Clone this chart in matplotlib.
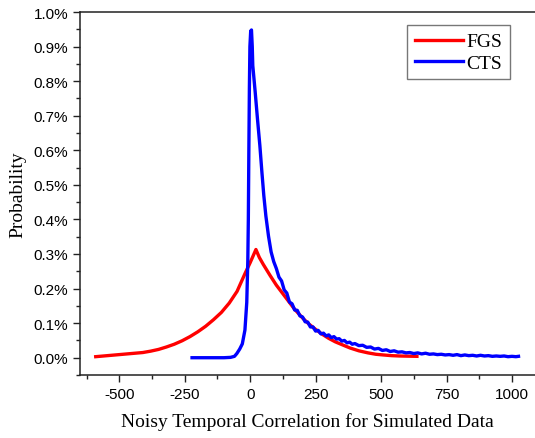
import matplotlib
matplotlib.use("Agg")
import matplotlib.pyplot as plt
from matplotlib.ticker import MultipleLocator, FuncFormatter

plt.rcParams["axes.unicode_minus"] = False

# FGS (red) curve, values in percent
fgs_x = [-590, -560, -530, -500, -470, -440, -410, -380, -350, -320, -290, -260, -230,
         -200, -170, -140, -110, -80, -50, -20, 0, 22, 35, 50, 76, 100, 120, 140, 170,
         200, 225, 250, 275, 300, 325, 350, 382, 415, 450, 480, 508, 540, 570, 600, 637]
fgs_y = [0.003, 0.005, 0.007, 0.009, 0.011, 0.013, 0.015, 0.019, 0.024, 0.031, 0.039,
         0.049, 0.061, 0.075, 0.091, 0.110, 0.131, 0.158, 0.192, 0.243, 0.275, 0.313,
         0.290, 0.270, 0.238, 0.210, 0.190, 0.170, 0.140, 0.115, 0.097, 0.082, 0.068,
         0.056, 0.046, 0.038, 0.028, 0.020, 0.014, 0.010, 0.008, 0.006, 0.005, 0.0045,
         0.004]

# CTS (blue) curve, values in percent
cts_x = [-222, -180, -140, -100, -75, -60, -51, -40, -30, -20, -13, -9, -7, -5, -3, -1,
         2, 5, 8, 10, 19, 28, 37, 45, 52,
         60, 70, 80, 90, 100, 110, 120, 130, 140, 150, 160, 170, 180, 190, 200,
         210, 220, 230, 240, 250, 260, 270, 280, 290, 300, 310, 320, 330, 340, 350, 360,
         370, 380, 390, 400, 415, 430, 445, 460, 475, 490, 505, 520, 535, 550, 565, 580,
         595, 610, 625, 640, 655, 670, 685, 700, 715, 730, 745, 760, 775, 790, 805, 820,
         835, 850, 865, 880, 895, 910, 925, 940, 955, 970, 985, 1000, 1015, 1025]
cts_y = [0.0, 0.0, 0.0, 0.0, 0.001, 0.004, 0.012, 0.025, 0.040, 0.080, 0.160, 0.280, 0.400,
         0.600, 0.780, 0.900, 0.945, 0.948, 0.900, 0.845, 0.770, 0.690, 0.614, 0.535, 0.470,
         0.410, 0.352, 0.306, 0.278, 0.258, 0.233, 0.222, 0.196, 0.187, 0.161,
         0.156, 0.138, 0.137, 0.121, 0.118, 0.104, 0.103, 0.089, 0.089, 0.077, 0.079, 0.069,
         0.071, 0.063, 0.066, 0.058, 0.061, 0.054, 0.055, 0.048, 0.050, 0.043, 0.045, 0.039,
         0.041, 0.035, 0.036, 0.030, 0.031, 0.025, 0.027, 0.021, 0.023, 0.018, 0.020, 0.016,
         0.017, 0.014, 0.015, 0.012, 0.014, 0.011, 0.013, 0.010, 0.011, 0.009, 0.010, 0.008,
         0.009, 0.007, 0.009, 0.006, 0.008, 0.006, 0.007, 0.005, 0.007, 0.005, 0.006, 0.004,
         0.005, 0.004, 0.005, 0.003, 0.004, 0.003, 0.004]

x_major = [-500, -250, 0, 250, 500, 750, 1000]

sans = ["Liberation Sans", "DejaVu Sans"]
serif = ["Liberation Serif", "DejaVu Serif"]

fig = plt.figure(figsize=(5.35, 4.39), dpi=100)
ax = fig.add_axes([80 / 535, 63 / 439, 1 - 80 / 535, (376 - 13) / 439])

ax.plot(fgs_x, fgs_y, color="#ff0000", lw=2.4, label="FGS", solid_joinstyle="round")
ax.plot(cts_x, cts_y, color="#0000ff", lw=2.4, label="CTS", solid_joinstyle="round")

ax.set_xlim(-650, 1088)
ax.set_ylim(-0.05, 1.0)
ax.set_xticks(x_major)
ax.xaxis.set_minor_locator(MultipleLocator(125))
ax.yaxis.set_major_locator(MultipleLocator(0.1))
ax.yaxis.set_minor_locator(MultipleLocator(0.05))
ax.yaxis.set_major_formatter(FuncFormatter(lambda v, p: f"{v:.1f}%"))

ax.spines["right"].set_visible(False)
for s in ["left", "bottom", "top"]:
    ax.spines[s].set_linewidth(1.1)
    ax.spines[s].set_color("#222222")

ax.tick_params(which="major", direction="out", length=5, width=1.0, labelsize=11, color="#222222")
ax.tick_params(which="minor", direction="out", length=3, width=1.0, color="#222222")
ax.tick_params(top=False, right=False)
for lab in ax.get_xticklabels() + ax.get_yticklabels():
    lab.set_fontfamily(sans)

ax.set_xlabel("Noisy Temporal Correlation for Simulated Data", fontsize=14, family=serif, labelpad=8)
ax.set_ylabel("Probability", fontsize=14, family=serif, labelpad=5)

leg = ax.legend(loc="upper right", bbox_to_anchor=(0.945, 0.964), borderaxespad=0,
                prop={"family": serif, "size": 14}, fancybox=False, framealpha=1,
                edgecolor="#777777", handlelength=2.5, handletextpad=0.15,
                labelspacing=0.18, borderpad=0.4)
leg.get_frame().set_linewidth(1.0)

fig.savefig("out.png", dpi=100)
